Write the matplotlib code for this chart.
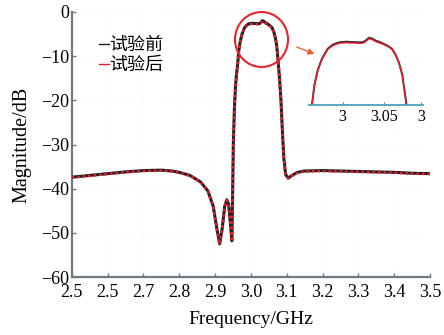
import matplotlib
matplotlib.use("Agg")
import matplotlib.pyplot as plt
from matplotlib.patches import Ellipse

# ---- data ----
freq = [2.50, 2.55, 2.60, 2.65, 2.70, 2.75, 2.78, 2.80, 2.83, 2.86, 2.88, 2.895,
        2.905, 2.913, 2.920, 2.927, 2.933, 2.938, 2.943, 2.947, 2.949, 2.951,
        2.954, 2.957, 2.960, 2.963, 2.966, 2.970, 2.975, 2.982, 2.988, 2.993,
        2.998, 3.005, 3.010, 3.015, 3.020, 3.025, 3.028, 3.032, 3.036, 3.040,
        3.045, 3.050, 3.055, 3.0595, 3.064, 3.068, 3.072, 3.076, 3.080, 3.084,
        3.088, 3.092, 3.097, 3.104, 3.115, 3.13, 3.15, 3.20, 3.25, 3.30, 3.35,
        3.40, 3.45, 3.50]
mag_before = [-37.4, -37.0, -36.6, -36.2, -35.9, -35.8, -36.0, -36.3, -37.0, -38.5,
              -40.5, -44.0, -49.0, -52.5, -49.0, -44.0, -42.5, -43.5, -48.0, -51.8,
              -42.0, -30.0, -22.0, -17.0, -14.0, -12.0, -9.0, -6.8, -5.1, -3.6,
              -3.0, -2.75, -2.6, -2.55, -2.6, -2.6, -2.65, -2.6, -2.35, -1.95,
              -2.1, -2.4, -2.6, -2.9, -3.2, -3.6, -4.5, -5.7, -7.5, -11.0, -15.0,
              -20.0, -27.0, -33.0, -36.8, -37.6, -37.0, -36.3, -36.0, -35.9, -36.0,
              -36.1, -36.2, -36.3, -36.5, -36.6]
mag_after = [-37.5, -37.1, -36.7, -36.3, -36.0, -35.9, -36.1, -36.4, -37.1, -38.6,
             -40.6, -44.1, -49.2, -52.6, -49.1, -44.1, -42.6, -43.6, -48.2, -52.0,
             -42.2, -30.2, -22.1, -17.1, -14.1, -12.1, -9.1, -6.9, -5.2, -3.7,
             -3.15, -2.9, -2.75, -2.7, -2.75, -2.75, -2.8, -2.75, -2.5, -2.1,
             -2.25, -2.55, -2.75, -3.0, -3.3, -3.7, -4.6, -5.8, -7.6, -11.1, -15.1,
             -20.1, -27.1, -33.1, -36.9, -37.7, -37.1, -36.4, -36.1, -36.0, -36.1,
             -36.2, -36.3, -36.4, -36.6, -36.7]
xticks = [2.5, 2.6, 2.7, 2.8, 2.9, 3.0, 3.1, 3.2, 3.3, 3.4, 3.5]
xticklabels = ["2.5", "2.5", "2.7", "2.8", "2.9", "3.0", "3.1", "3.2", "3.3", "3.4", "3.5"]
yticks = [0, -10, -20, -30, -40, -50, -60]
inset_ticks = [3.0, 3.05, 3.095]
inset_labels = ["3", "3.05", "3"]
labels = ["试验前", "试验后"]

serif = ["Liberation Serif", "DejaVu Serif"]
cjk = ["Noto Sans CJK SC", "DejaVu Sans"]
axis_col = "#6b7b80"

fig = plt.figure(figsize=(4.44, 3.35), dpi=100)
ax = fig.add_axes([0.1615, 0.1731, 0.807, 0.7911])

ax.plot(freq, mag_before, color="#222222", lw=2.2, label=labels[0], zorder=3)
ax.plot(freq, mag_after, color="#ee1c2e", lw=1.8, ls=(0, (1, 1.2)), label=labels[1], zorder=4)

ax.set_xlim(2.5, 3.5)
ax.set_ylim(-60, 0)
ax.set_xticks(xticks)
ax.set_xticklabels(xticklabels, fontfamily=serif, fontsize=13)
ax.set_yticks(yticks)
ax.set_yticklabels([f"\u2212{-v}" if v < 0 else str(v) for v in yticks], fontfamily=serif, fontsize=13)
ax.tick_params(direction="in", length=3, width=1, color=axis_col)
ax.tick_params(axis="x", pad=5)
ax.tick_params(axis="y", pad=2)
for s in ["top", "right"]:
    ax.spines[s].set_visible(False)
for s in ["left", "bottom"]:
    ax.spines[s].set_color(axis_col)
    ax.spines[s].set_linewidth(1.6)
ax.grid(True, color="#eeeeee", lw=0.6, ls=(0, (1, 4)))
ax.set_axisbelow(True)
ax.set_xlabel("Frequency/GHz", fontfamily=serif, fontsize=14, labelpad=7)
ax.set_ylabel("Magnitude/dB", fontfamily=serif, fontsize=14.5, labelpad=7)

leg = ax.legend(loc="upper left", bbox_to_anchor=(0.055, 0.935), frameon=False,
                prop={"family": cjk, "size": 13}, handlelength=0.55, handletextpad=0.05,
                labelspacing=0.1, borderaxespad=0)
for h in leg.legend_handles:
    h.set_linewidth(1.0)
    h.set_linestyle("-")

# circle around the passband
ell = Ellipse((3.0297, -6.23), 0.148, 12.45, fill=False, edgecolor="#e8262a", lw=1.5,
              clip_on=False, zorder=5)
ax.add_patch(ell)

# arrow to inset
fig.patches.append(matplotlib.patches.FancyArrowPatch(
    (294 / 444, 1 - 46 / 335), (317 / 444, 1 - 55 / 335), transform=fig.transFigure,
    arrowstyle="-|>", mutation_scale=9, color="#f2592b", lw=0.9))

# inset
axi = fig.add_axes([0.696, 0.6866, 0.2568, 0.2239])
axi.patch.set_alpha(0)
axi.plot(freq, mag_before, color="#333333", lw=1.4)
axi.plot(freq, mag_after, color="#ee1c2e", lw=1.0)
axi.set_xlim(2.9595, 3.097)
axi.set_ylim(-12, -0.8)
for s in ["top", "right", "left"]:
    axi.spines[s].set_visible(False)
axi.spines["bottom"].set_color("#4aa3b8")
axi.spines["bottom"].set_linewidth(1.3)
axi.set_yticks([])
axi.set_xticks(inset_ticks)
axi.set_xticklabels(inset_labels, fontfamily=serif, fontsize=11.5)
axi.tick_params(axis="x", length=2, color="#777777", direction="in", pad=3)

fig.savefig("out.png", dpi=100)
